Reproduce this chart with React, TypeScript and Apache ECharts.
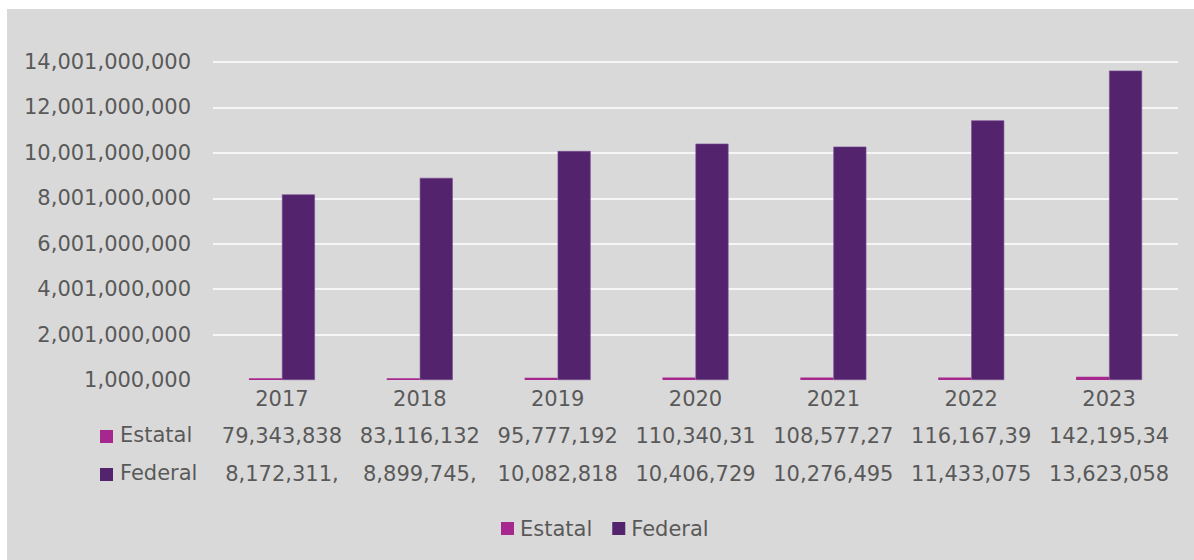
import React, { useEffect, useRef } from "react";
import * as echarts from "echarts";

const years = ["2017", "2018", "2019", "2020", "2021", "2022", "2023"];
const estatal = [79343838, 83116132, 95777192, 110340310, 108577270, 116167390, 142195340];
const federal = [8172311000, 8899745000, 10082818000, 10406729000, 10276495000, 11433075000, 13623058000];
const seriesNames = ["Estatal", "Federal"];
const colors = ["#a6288f", "#53236e"];

const fmt = (v: number) => v.toLocaleString("en-US");
const cell = (v: number) => fmt(v).slice(0, 10);

export default function App() {
  const ref = useRef<HTMLDivElement>(null);
  useEffect(() => {
    if (!ref.current) return;
    const chart = echarts.init(ref.current, null, { renderer: "svg" });
    const font = "DejaVu Sans";
    const textColor = "#595959";
    chart.setOption({
      animation: false,
      backgroundColor: "#d9d9d9",
      textStyle: { fontFamily: font },
      grid: { left: 206, right: 16, top: 53, bottom: 180, containLabel: false },
      legend: {
        left: 489,
        top: 504,
        itemWidth: 13,
        itemHeight: 13,
        itemGap: 20,
        icon: "rect",
        data: seriesNames,
        itemStyle: { borderWidth: 0 },
        textStyle: { fontFamily: font, fontSize: 21, color: textColor, padding: [0, 0, 0, 1] },
      },
      xAxis: {
        type: "category",
        data: years,
        axisLine: { show: false },
        axisTick: { show: false },
        axisLabel: {
          interval: 0,
          margin: 0,
          formatter: (val: string, idx: number) =>
            `{y|${val}}\n{e|${cell(estatal[idx])}}\n{f|${cell(federal[idx])}}`,
          rich: {
            y: { fontFamily: font, fontSize: 21, color: textColor, lineHeight: 37.5 },
            e: { fontFamily: font, fontSize: 21, color: textColor, lineHeight: 37.5 },
            f: { fontFamily: font, fontSize: 21, color: textColor, lineHeight: 37.5 },
          },
        },
      },
      yAxis: {
        type: "value",
        min: 1000000,
        max: 14001000000,
        interval: 2000000000,
        axisLine: { show: false },
        axisTick: { show: false },
        axisLabel: {
          margin: 22,
          fontFamily: font,
          fontSize: 21,
          color: textColor,
          formatter: (v: number) => fmt(v),
        },
        splitLine: { show: true, showMinLine: false, lineStyle: { color: "#ffffff", width: 1.5 } },
      },
      series: [
        {
          name: seriesNames[0],
          type: "bar",
          data: estatal,
          barWidth: 33,
          barGap: "0%",
          itemStyle: { color: colors[0] },
        },
        {
          name: seriesNames[1],
          type: "bar",
          data: federal,
          barWidth: 33,
          barGap: "0%",
          itemStyle: { color: colors[1], borderColor: "#7a4d93", borderWidth: 0.6 },
        },
      ],
      graphic: [
        { type: "rect", left: 93, top: 421, shape: { width: 13, height: 13 }, style: { fill: colors[0] } },
        {
          type: "text",
          left: 113,
          top: 427.5 - 12,
          style: { text: seriesNames[0], font: `21px "${font}"`, fill: textColor },
        },
        { type: "rect", left: 93, top: 459, shape: { width: 13, height: 13 }, style: { fill: colors[1] } },
        {
          type: "text",
          left: 113,
          top: 465.5 - 12,
          style: { text: seriesNames[1], font: `21px "${font}"`, fill: textColor },
        },
      ],
    });
    return () => chart.dispose();
  }, []);
  return (
    <div
      ref={ref}
      style={{ position: "absolute", left: 7, top: 9, width: 1187, height: 551 }}
    />
  );
}
